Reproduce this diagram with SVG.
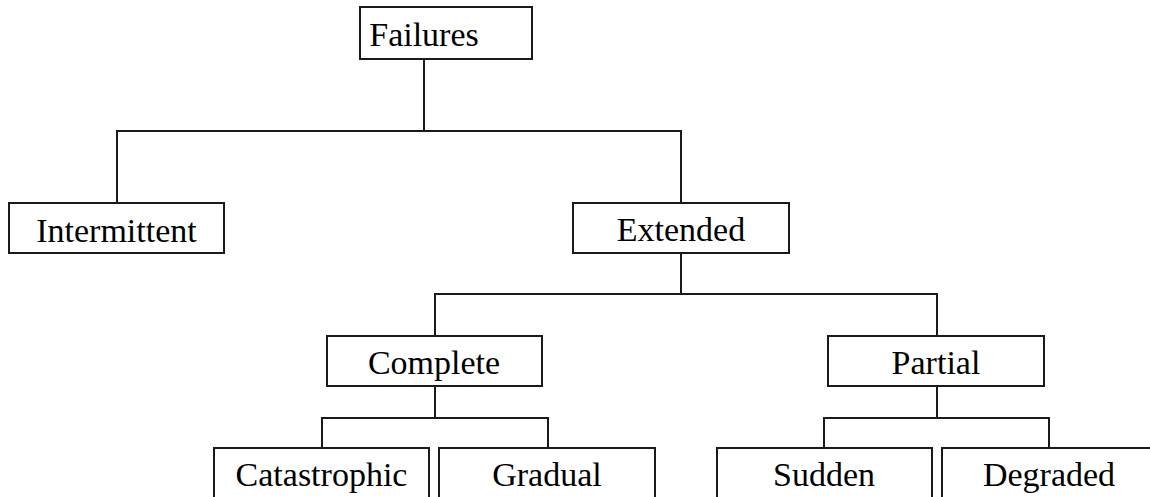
<svg xmlns="http://www.w3.org/2000/svg" width="1150" height="497" viewBox="0 0 1150 497">
<style>
rect.box{fill:#fff;stroke:#1a1a1a;stroke-width:2}
.lbl{font-family:"Liberation Serif","Times New Roman",serif;font-size:34px;fill:#000;text-anchor:middle}
.conn line{stroke:#1a1a1a;stroke-width:2;fill:none}
</style>
<rect width="1150" height="497" fill="#fff"/>
<g id="connectors" class="conn">
<line x1="424" y1="59" x2="424" y2="131"/>
<line x1="116" y1="131" x2="682" y2="131"/>
<line x1="117" y1="131" x2="117" y2="203"/>
<line x1="681" y1="131" x2="681" y2="203"/>
<line x1="681" y1="253" x2="681" y2="294"/>
<line x1="434" y1="294" x2="938" y2="294"/>
<line x1="435" y1="294" x2="435" y2="336"/>
<line x1="937" y1="294" x2="937" y2="336"/>
<line x1="435" y1="386" x2="435" y2="418"/>
<line x1="321" y1="418" x2="549" y2="418"/>
<line x1="322" y1="418" x2="322" y2="448"/>
<line x1="548" y1="418" x2="548" y2="448"/>
<line x1="937" y1="386" x2="937" y2="418"/>
<line x1="823" y1="418" x2="1050" y2="418"/>
<line x1="824" y1="418" x2="824" y2="448"/>
<line x1="1049" y1="418" x2="1049" y2="448"/>
</g>
<g id="failures"><rect class="box" x="360" y="7" width="172" height="52"/><text class="lbl" x="424" y="46">Failures</text></g>
<g id="intermittent"><rect class="box" x="9" y="203" width="215" height="50"/><text class="lbl" x="116.5" y="242">Intermittent</text></g>
<g id="extended"><rect class="box" x="573" y="203" width="216" height="50"/><text class="lbl" x="681" y="241">Extended</text></g>
<g id="complete"><rect class="box" x="327" y="336" width="215" height="50"/><text class="lbl" x="434" y="374">Complete</text></g>
<g id="partial"><rect class="box" x="828" y="336" width="216" height="50"/><text class="lbl" x="936" y="374">Partial</text></g>
<g id="catastrophic"><rect class="box" x="214" y="448" width="215" height="70"/><text class="lbl" x="321.5" y="486">Catastrophic</text></g>
<g id="gradual"><rect class="box" x="439" y="448" width="216" height="70"/><text class="lbl" x="547" y="486">Gradual</text></g>
<g id="sudden"><rect class="box" x="717" y="448" width="215" height="70"/><text class="lbl" x="824" y="486">Sudden</text></g>
<g id="degraded"><rect class="box" x="942" y="448" width="230" height="70"/><text class="lbl" x="1049" y="486">Degraded</text></g>
</svg>
